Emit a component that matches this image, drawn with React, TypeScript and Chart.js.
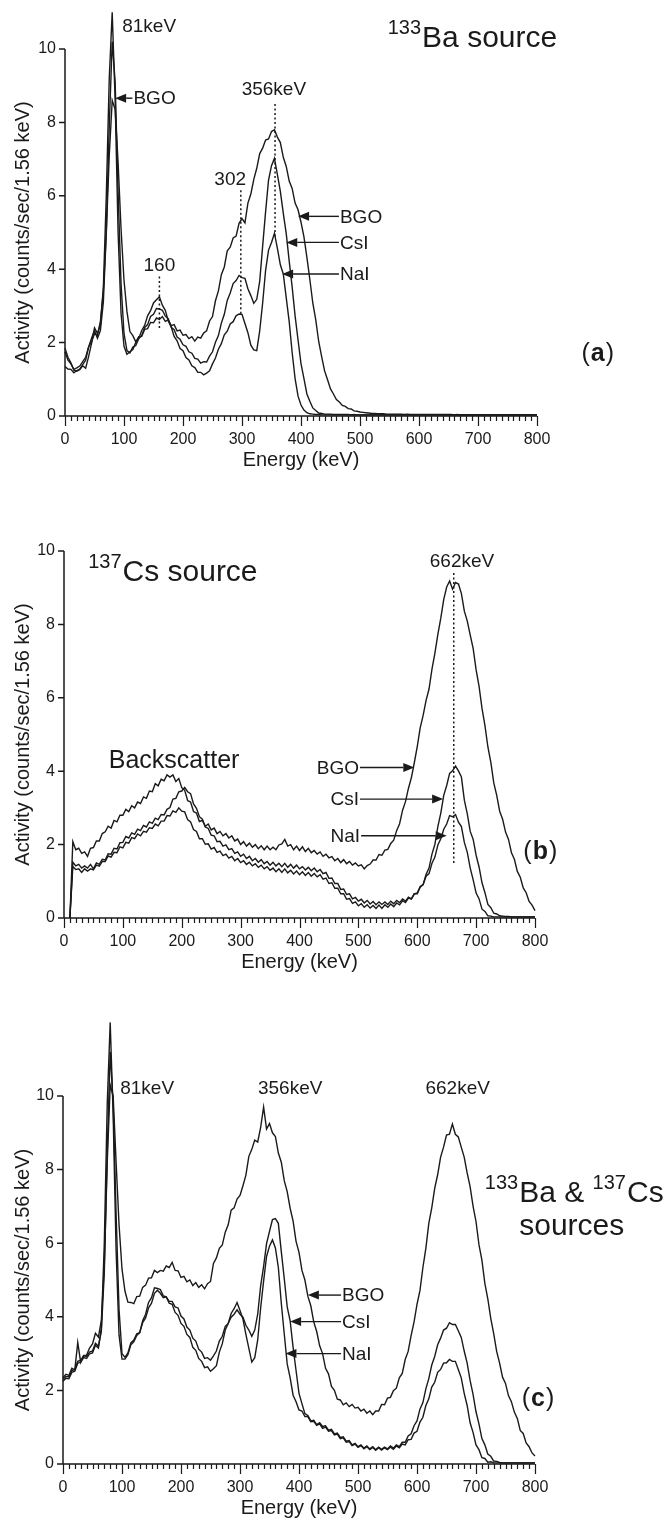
import React, { useEffect, useRef } from 'react';
import { Chart, registerables } from 'chart.js';

Chart.register(...registerables);

const FONT = "'Liberation Sans', Arial, Helvetica, sans-serif";
const INK = '#1a1a1a';

// Energy grid (keV), one point every 5 keV from 0 to 800
const ENERGY_KEV: number[] = Array.from({ length: 161 }, (_, i) => i * 5);
const X_MAX = 800;
const Y_MAX = 10;
const X_TICK_STEP = 100;
const X_MINOR_STEP = 10;
const Y_TICK_STEP = 2;
const X_TITLE = 'Energy (keV)';
const Y_TITLE = 'Activity (counts/sec/1.56 keV)';
const SERIES_NAMES = ['BGO', 'CsI', 'NaI'];

// ---------- (a) 133Ba source ----------
const A_BGO: (number | null)[] = [
  1.75, 1.52, 1.42, 1.27, 1.31, 1.36, 1.48, 1.6, 1.88, 2.02,
  2.24, 2.2, 2.58, 3.4, 5.0, 7.1, 8.6, 8.35, 6.9, 5.1,
  3.7, 2.85, 2.3, 2.19, 2.02, 2.16, 2.17, 2.36, 2.38, 2.55,
  2.54, 2.67, 2.63, 2.71, 2.58, 2.62, 2.46, 2.49, 2.32, 2.34,
  2.2, 2.22, 2.11, 2.16, 2.04, 2.15, 2.12, 2.26, 2.32, 2.59,
  2.71, 3.14, 3.41, 3.85, 4.06, 4.5, 4.6, 4.85, 4.9, 5.25,
  5.38, 5.26, 5.8, 6.05, 6.45, 6.75, 7.15, 7.3, 7.52, 7.55,
  7.75, 7.8, 7.6, 7.45, 7.05, 6.8, 6.4, 6.2, 5.8, 5.62,
  5.28, 4.88, 4.32, 3.72, 3.08, 2.62, 2.03, 1.62, 1.23, 0.99,
  0.74, 0.6, 0.45, 0.38, 0.29, 0.26, 0.2, 0.19, 0.14, 0.13,
  0.11, 0.1, 0.09, 0.08, 0.07, 0.07, 0.06, 0.06, 0.06, 0.05,
  0.05, 0.05, 0.05, 0.05, 0.05, 0.04, 0.05, 0.04, 0.04, 0.04,
  0.04, 0.04, 0.04, 0.04, 0.04, 0.04, 0.04, 0.04, 0.04, 0.04,
  0.04, 0.04, 0.03, 0.04, 0.03, 0.03, 0.03, 0.03, 0.03, 0.03,
  0.03, 0.03, 0.03, 0.03, 0.03, 0.03, 0.03, 0.03, 0.03, 0.03,
  0.03, 0.03, 0.03, 0.03, 0.03, 0.03, 0.03, 0.03, 0.03, 0.03,
  0.03,
];
const A_CSI: (number | null)[] = [
  1.35, 1.28, 1.27, 1.18, 1.24, 1.28, 1.4, 1.52, 1.88, 2.12,
  2.33, 2.12, 2.33, 3.1, 5.0, 7.9, 10.2, 9.1, 6.1, 3.6,
  2.25, 1.78, 1.72, 1.88, 1.92, 2.11, 2.19, 2.41, 2.49, 2.71,
  2.77, 2.93, 2.92, 2.88, 2.72, 2.65, 2.42, 2.35, 2.15, 2.09,
  1.94, 1.9, 1.75, 1.71, 1.57, 1.55, 1.44, 1.48, 1.47, 1.63,
  1.75, 2.01, 2.19, 2.53, 2.77, 3.15, 3.35, 3.61, 3.69, 3.83,
  3.77, 3.75, 3.47, 3.28, 3.07, 3.18, 3.67, 4.63, 5.57, 6.43,
  6.82, 7.02, 6.58, 6.12, 5.52, 4.97, 4.22, 3.52, 2.73, 2.07,
  1.43, 1.02, 0.6, 0.4, 0.22, 0.15, 0.08, 0.07, 0.05, 0.05,
  0.05, 0.04, 0.04, 0.04, 0.04, 0.04, 0.04, 0.03, 0.04, 0.03,
  0.03, 0.03, 0.03, 0.03, 0.03, 0.03, 0.03, 0.03, 0.03, 0.03,
  0.03, 0.03, 0.03, 0.03, 0.03, 0.03, 0.03, 0.03, 0.03, 0.03,
  0.03, 0.03, 0.03, 0.03, 0.03, 0.03, 0.03, 0.03, 0.03, 0.03,
  0.03, 0.03, 0.03, 0.03, 0.03, 0.03, 0.03, 0.03, 0.03, 0.03,
  0.03, 0.03, 0.03, 0.03, 0.03, 0.03, 0.03, 0.03, 0.03, 0.03,
  0.03, 0.03, 0.03, 0.03, 0.03, 0.03, 0.03, 0.03, 0.03, 0.03,
  0.03,
];
const A_NAI: (number | null)[] = [
  1.85, 1.6, 1.45, 1.25, 1.22, 1.26, 1.37, 1.3, 1.62, 1.98,
  2.4, 2.25, 2.48, 3.5, 6.0, 9.2, 11.0, 8.6, 5.0, 2.8,
  1.9, 1.68, 1.75, 1.81, 2.01, 2.11, 2.33, 2.47, 2.73, 2.87,
  3.08, 3.17, 3.25, 3.02, 2.88, 2.59, 2.43, 2.17, 2.05, 1.84,
  1.78, 1.59, 1.53, 1.37, 1.32, 1.19, 1.19, 1.12, 1.17, 1.23,
  1.42, 1.58, 1.82, 1.97, 2.21, 2.31, 2.51, 2.57, 2.73, 2.78,
  2.77, 2.52, 2.27, 1.93, 1.8, 1.78, 2.32, 3.08, 3.97, 4.52,
  4.73, 4.98, 4.57, 4.12, 3.87, 3.22, 2.57, 1.73, 1.02, 0.54,
  0.3, 0.16, 0.09, 0.06, 0.05, 0.04, 0.04, 0.03, 0.03, 0.03,
  0.03, 0.03, 0.03, 0.03, 0.03, 0.03, 0.03, 0.03, 0.03, 0.03,
  0.03, 0.03, 0.03, 0.03, 0.03, 0.03, 0.03, 0.03, 0.03, 0.03,
  0.03, 0.03, 0.03, 0.03, 0.03, 0.03, 0.03, 0.03, 0.03, 0.03,
  0.03, 0.03, 0.03, 0.03, 0.03, 0.03, 0.03, 0.03, 0.03, 0.03,
  0.03, 0.03, 0.03, 0.03, 0.03, 0.03, 0.03, 0.03, 0.03, 0.03,
  0.03, 0.03, 0.03, 0.03, 0.03, 0.03, 0.03, 0.03, 0.03, 0.03,
  0.03, 0.03, 0.03, 0.03, 0.03, 0.03, 0.03, 0.03, 0.03, 0.03,
  0.03,
];

// ---------- (b) 137Cs source ----------
const B_BGO: (number | null)[] = [
  null, null, 0, 2.08, 1.86, 1.9, 1.76, 1.8, 1.68, 1.9,
  1.92, 2.1, 2.1, 2.3, 2.35, 2.5, 2.45, 2.66, 2.62, 2.8,
  2.8, 2.96, 2.9, 3.06, 3.0, 3.16, 3.12, 3.3, 3.26, 3.46,
  3.44, 3.66, 3.6, 3.78, 3.74, 3.9, 3.84, 3.9, 3.72, 3.8,
  3.55, 3.48, 3.2, 3.16, 2.9, 2.86, 2.63, 2.66, 2.5, 2.56,
  2.4, 2.45, 2.3, 2.36, 2.24, 2.3, 2.18, 2.24, 2.1, 2.15,
  2.0, 2.08, 1.96, 2.04, 1.93, 2.0, 1.89, 1.97, 1.86, 1.96,
  1.86, 1.93, 1.86, 1.99, 2.02, 2.14, 1.96, 2.0, 1.86, 1.96,
  1.84, 1.94, 1.81, 1.9, 1.78, 1.84, 1.74, 1.8, 1.68, 1.74,
  1.64, 1.67, 1.56, 1.62, 1.51, 1.59, 1.48, 1.54, 1.44, 1.5,
  1.42, 1.45, 1.34, 1.43, 1.47, 1.58, 1.58, 1.73, 1.71, 1.85,
  1.87, 2.03, 2.12, 2.38, 2.57, 2.93, 3.17, 3.53, 3.82, 4.23,
  4.67, 5.18, 5.52, 5.93, 6.24, 6.78, 7.22, 7.73, 8.17, 8.68,
  9.02, 9.18, 8.96, 9.14, 9.1, 8.84, 8.36, 8.09, 7.71, 7.34,
  6.76, 6.31, 5.71, 5.24, 4.66, 4.24, 3.68, 3.34, 2.91, 2.69,
  2.34, 2.14, 1.78, 1.6, 1.27, 1.11, 0.82, 0.69, 0.45, 0.35,
  0.2,
];
const B_CSI: (number | null)[] = [
  null, null, 0, 1.52, 1.42, 1.46, 1.36, 1.42, 1.36, 1.46,
  1.34, 1.5, 1.46, 1.6, 1.58, 1.75, 1.74, 1.9, 1.88, 2.05,
  2.06, 2.22, 2.18, 2.32, 2.28, 2.42, 2.38, 2.52, 2.48, 2.62,
  2.58, 2.72, 2.68, 2.82, 2.81, 2.96, 3.01, 3.24, 3.26, 3.44,
  3.46, 3.56, 3.44, 3.39, 3.11, 2.99, 2.76, 2.69, 2.48, 2.44,
  2.26, 2.24, 2.08, 2.09, 1.96, 1.99, 1.86, 1.89, 1.76, 1.8,
  1.68, 1.74, 1.62, 1.68, 1.56, 1.62, 1.52, 1.59, 1.48, 1.54,
  1.44, 1.52, 1.42, 1.49, 1.4, 1.49, 1.38, 1.46, 1.36, 1.44,
  1.34, 1.4, 1.31, 1.38, 1.29, 1.36, 1.26, 1.32, 1.21, 1.24,
  1.08, 1.09, 0.94, 0.94, 0.78, 0.79, 0.64, 0.66, 0.52, 0.56,
  0.46, 0.51, 0.41, 0.48, 0.38, 0.45, 0.36, 0.44, 0.37, 0.44,
  0.37, 0.46, 0.39, 0.48, 0.42, 0.52, 0.46, 0.57, 0.52, 0.66,
  0.66, 0.84, 0.91, 1.19, 1.36, 1.74, 2.01, 2.49, 2.86, 3.34,
  3.61, 3.94, 4.01, 4.14, 4.01, 3.84, 3.21, 2.84, 2.36, 2.14,
  1.71, 1.39, 0.96, 0.69, 0.37, 0.28, 0.13, 0.11, 0.06, 0.05,
  0.04, 0.04, 0.03, 0.03, 0.03, 0.03, 0.03, 0.03, 0.03, 0.03,
  0.03,
];
const B_NAI: (number | null)[] = [
  null, null, 0, 1.4, 1.32, 1.34, 1.24, 1.34, 1.28, 1.34,
  1.31, 1.44, 1.41, 1.54, 1.54, 1.69, 1.66, 1.79, 1.78, 1.94,
  1.91, 2.06, 2.04, 2.19, 2.16, 2.29, 2.24, 2.36, 2.34, 2.46,
  2.44, 2.56, 2.51, 2.64, 2.64, 2.79, 2.78, 2.92, 2.88, 3.0,
  2.91, 2.89, 2.68, 2.62, 2.41, 2.36, 2.16, 2.16, 2.01, 2.02,
  1.88, 1.92, 1.79, 1.82, 1.7, 1.74, 1.63, 1.68, 1.56, 1.62,
  1.51, 1.56, 1.46, 1.52, 1.42, 1.48, 1.38, 1.44, 1.34, 1.4,
  1.3, 1.36, 1.26, 1.34, 1.24, 1.34, 1.23, 1.3, 1.2, 1.28,
  1.18, 1.26, 1.16, 1.24, 1.14, 1.21, 1.12, 1.18, 1.06, 1.09,
  0.94, 0.96, 0.81, 0.81, 0.66, 0.66, 0.51, 0.53, 0.4, 0.44,
  0.33, 0.39, 0.29, 0.36, 0.27, 0.34, 0.26, 0.35, 0.26, 0.36,
  0.29, 0.38, 0.31, 0.41, 0.36, 0.47, 0.42, 0.54, 0.52, 0.66,
  0.68, 0.86, 0.91, 1.14, 1.21, 1.49, 1.66, 1.99, 2.16, 2.42,
  2.56, 2.79, 2.76, 2.82, 2.61, 2.49, 2.06, 1.79, 1.36, 1.04,
  0.68, 0.52, 0.24, 0.18, 0.06, 0.05, 0.03, 0.03, 0.03, 0.03,
  0.03, 0.03, 0.03, 0.03, 0.03, 0.03, 0.03, 0.03, 0.03, 0.03,
  0.03,
];

// ---------- (c) 133Ba & 137Cs sources ----------
const C_BGO: (number | null)[] = [
  2.35, 2.44, 2.41, 2.6, 2.56, 3.3, 2.76, 2.95, 2.96, 3.15,
  3.26, 3.55, 3.45, 3.9, 5.4, 8.2, 10.3, 10.0, 8.2, 6.5,
  5.3, 4.7, 4.4, 4.39, 4.36, 4.55, 4.56, 4.8, 4.86, 5.05,
  5.06, 5.26, 5.2, 5.26, 5.24, 5.38, 5.34, 5.48, 5.26, 5.25,
  5.07, 5.1, 4.95, 5.0, 4.85, 4.93, 4.8, 4.87, 4.76, 4.9,
  4.96, 5.45, 5.6, 5.86, 5.95, 6.3, 6.5, 6.9, 6.96, 7.2,
  7.3, 7.56, 7.85, 8.36, 8.55, 8.8, 8.75, 9.15, 9.7, 9.1,
  9.25, 9.0, 8.9, 8.45, 8.2, 7.7, 7.4, 6.95, 6.6, 6.05,
  5.75, 5.26, 5.0, 4.56, 4.3, 3.86, 3.6, 3.21, 3.0, 2.6,
  2.45, 2.11, 2.0, 1.76, 1.74, 1.61, 1.66, 1.56, 1.62, 1.52,
  1.54, 1.44, 1.49, 1.38, 1.44, 1.34, 1.44, 1.44, 1.62, 1.61,
  1.79, 1.81, 1.99, 2.06, 2.34, 2.46, 2.84, 3.06, 3.49, 3.86,
  4.34, 4.71, 5.34, 5.86, 6.54, 6.96, 7.49, 7.86, 8.34, 8.61,
  8.94, 8.96, 9.24, 8.96, 8.89, 8.61, 8.34, 7.91, 7.54, 7.01,
  6.59, 5.96, 5.54, 4.91, 4.49, 3.96, 3.54, 3.06, 2.74, 2.36,
  2.19, 1.86, 1.69, 1.41, 1.24, 0.91, 0.83, 0.57, 0.47, 0.3,
  0.22,
];
const C_CSI: (number | null)[] = [
  2.3, 2.38, 2.37, 2.54, 2.57, 2.79, 2.82, 2.94, 2.92, 3.04,
  3.07, 3.28, 3.2, 3.6, 5.2, 8.5, 11.2, 9.8, 6.8, 4.2,
  3.0, 2.9, 3.02, 3.29, 3.37, 3.54, 3.57, 3.84, 3.97, 4.24,
  4.37, 4.64, 4.72, 4.64, 4.52, 4.54, 4.42, 4.42, 4.27, 4.24,
  4.02, 3.94, 3.72, 3.64, 3.42, 3.34, 3.12, 3.04, 2.87, 2.89,
  2.82, 2.94, 3.07, 3.34, 3.47, 3.74, 3.82, 3.99, 4.07, 4.19,
  4.07, 3.99, 3.77, 3.64, 3.47, 3.64, 4.07, 4.84, 5.37, 5.99,
  6.32, 6.64, 6.67, 6.54, 5.77, 5.04, 4.27, 3.89, 3.17, 2.54,
  1.92, 1.64, 1.37, 1.32, 1.17, 1.19, 1.07, 1.12, 1.02, 1.04,
  0.92, 0.94, 0.82, 0.84, 0.72, 0.74, 0.62, 0.64, 0.52, 0.56,
  0.47, 0.52, 0.43, 0.49, 0.41, 0.47, 0.39, 0.46, 0.4, 0.46,
  0.41, 0.49, 0.43, 0.52, 0.47, 0.59, 0.59, 0.76, 0.82, 1.04,
  1.17, 1.49, 1.67, 2.04, 2.32, 2.69, 2.92, 3.24, 3.42, 3.64,
  3.69, 3.84, 3.79, 3.79, 3.62, 3.44, 3.07, 2.74, 2.27, 1.89,
  1.42, 1.09, 0.69, 0.52, 0.27, 0.21, 0.08, 0.07, 0.04, 0.03,
  0.03, 0.03, 0.03, 0.03, 0.03, 0.03, 0.03, 0.03, 0.03, 0.03,
  0.03,
];
const C_NAI: (number | null)[] = [
  2.25, 2.33, 2.32, 2.49, 2.52, 2.74, 2.77, 2.89, 2.87, 2.99,
  3.02, 3.23, 3.15, 3.7, 6.0, 9.8, 12.0, 9.5, 5.8, 3.5,
  2.85, 2.85, 2.97, 3.24, 3.32, 3.49, 3.57, 3.89, 4.07, 4.39,
  4.52, 4.79, 4.77, 4.74, 4.57, 4.54, 4.37, 4.34, 4.12, 4.04,
  3.82, 3.74, 3.52, 3.44, 3.17, 3.09, 2.87, 2.79, 2.62, 2.64,
  2.52, 2.59, 2.67, 3.04, 3.27, 3.64, 3.82, 4.09, 4.22, 4.39,
  4.17, 3.94, 3.52, 3.14, 2.77, 2.89, 3.37, 4.24, 4.97, 5.64,
  5.92, 6.09, 5.87, 5.34, 4.37, 3.54, 2.72, 2.34, 1.87, 1.69,
  1.47, 1.44, 1.29, 1.29, 1.15, 1.16, 1.05, 1.09, 0.97, 1.0,
  0.89, 0.91, 0.79, 0.81, 0.69, 0.71, 0.59, 0.61, 0.5, 0.54,
  0.45, 0.5, 0.41, 0.47, 0.39, 0.45, 0.37, 0.44, 0.38, 0.44,
  0.39, 0.46, 0.4, 0.49, 0.44, 0.54, 0.52, 0.66, 0.67, 0.84,
  0.89, 1.14, 1.27, 1.59, 1.77, 2.09, 2.22, 2.49, 2.57, 2.74,
  2.75, 2.84, 2.79, 2.79, 2.57, 2.34, 1.92, 1.59, 1.12, 0.86,
  0.52, 0.39, 0.17, 0.15, 0.05, 0.06, 0.03, 0.03, 0.03, 0.03,
  0.03, 0.03, 0.03, 0.03, 0.03, 0.03, 0.03, 0.03, 0.03, 0.03,
  0.03,
];

// ---------- annotations (in data units: keV, activity) ----------
type Label = { text: string; e: number; v: number; align: CanvasTextAlign; size?: number };
type Dotted = { e: number; from: number; to: number };
type Arrow = { text: string; textE: number; tipE: number; v: number; textSide: 'left' | 'right' };
type Title = { parts: { sup: string; main: string }[]; e: number; v: number; line2?: string; v2?: number };

const A_LABELS: Label[] = [
  { text: '81keV', e: 97, v: 10.45, align: 'left' },
  { text: '160', e: 160, v: 3.95, align: 'center' },
  { text: '302', e: 280, v: 6.3, align: 'center' },
  { text: '356keV', e: 354, v: 8.75, align: 'center' },
];
const A_DOTTED: Dotted[] = [
  { e: 160, from: 3.8, to: 2.35 },
  { e: 298, from: 6.15, to: 2.75 },
  { e: 356, from: 8.5, to: 4.9 },
];
const A_ARROWS: Arrow[] = [
  { text: 'BGO', textE: 116, tipE: 85, v: 8.66, textSide: 'right' },
  { text: 'BGO', textE: 466, tipE: 395, v: 5.44, textSide: 'right' },
  { text: 'CsI', textE: 466, tipE: 375, v: 4.73, textSide: 'right' },
  { text: 'NaI', textE: 466, tipE: 368, v: 3.87, textSide: 'right' },
];
const A_TITLE: Title = { parts: [{ sup: '133', main: 'Ba source' }], e: 547, v: 10.05 };

const B_LABELS: Label[] = [
  { text: '662keV', e: 676, v: 9.57, align: 'center' },
  { text: 'Backscatter', e: 187, v: 4.1, align: 'center', size: 25 },
];
const B_DOTTED: Dotted[] = [{ e: 662, from: 9.4, to: 1.5 }];
const B_ARROWS: Arrow[] = [
  { text: 'BGO', textE: 501, tipE: 595, v: 4.1, textSide: 'left' },
  { text: 'CsI', textE: 501, tipE: 644, v: 3.24, textSide: 'left' },
  { text: 'NaI', textE: 503, tipE: 650, v: 2.24, textSide: 'left' },
];
const B_TITLE: Title = { parts: [{ sup: '137', main: 'Cs source' }], e: 41, v: 9.18 };

const C_LABELS: Label[] = [
  { text: '81keV', e: 97, v: 10.05, align: 'left' },
  { text: '356keV', e: 385, v: 10.05, align: 'center' },
  { text: '662keV', e: 669, v: 10.05, align: 'center' },
];
const C_DOTTED: Dotted[] = [];
const C_ARROWS: Arrow[] = [
  { text: 'BGO', textE: 473, tipE: 415, v: 4.59, textSide: 'right' },
  { text: 'CsI', textE: 473, tipE: 385, v: 3.87, textSide: 'right' },
  { text: 'NaI', textE: 473, tipE: 377, v: 3.0, textSide: 'right' },
];
const C_TITLE: Title = {
  parts: [{ sup: '133', main: 'Ba & ' }, { sup: '137', main: 'Cs' }],
  e: 715, v: 7.12, line2: 'sources', v2: 6.22,
};

type PanelSpec = {
  id: string;
  letter: string; letterE: number; letterV: number;
  series: (number | null)[][];
  labels: Label[]; dotted: Dotted[]; arrows: Arrow[]; title: Title;
  top: number; height: number; padTop: number; padBottom: number; padRight: number; yAxisWidth: number;
};

const PANELS: PanelSpec[] = [
  {
    id: 'a', letter: 'a', letterE: 903, letterV: 1.69,
    series: [A_BGO, A_CSI, A_NAI], labels: A_LABELS, dotted: A_DOTTED, arrows: A_ARROWS, title: A_TITLE,
    top: 0, height: 500, padTop: 49, padBottom: 26, padRight: 133, yAxisWidth: 65,
  },
  {
    id: 'b', letter: 'b', letterE: 809, letterV: 1.8,
    series: [B_BGO, B_CSI, B_NAI], labels: B_LABELS, dotted: B_DOTTED, arrows: B_ARROWS, title: B_TITLE,
    top: 500, height: 500, padTop: 51, padBottom: 24, padRight: 135, yAxisWidth: 64,
  },
  {
    id: 'c', letter: 'c', letterE: 805, letterV: 1.75,
    series: [C_BGO, C_CSI, C_NAI], labels: C_LABELS, dotted: C_DOTTED, arrows: C_ARROWS, title: C_TITLE,
    top: 1000, height: 522, padTop: 96, padBottom: 0, padRight: 135, yAxisWidth: 63,
  },
];

const axesPlugin = {
  id: 'manualAxes',
  afterDraw(chart: any) {
    const { ctx } = chart;
    const xs = chart.scales.x, ys = chart.scales.y;
    const x0 = xs.getPixelForValue(0), x1 = xs.getPixelForValue(X_MAX);
    const y0 = ys.getPixelForValue(0), y1 = ys.getPixelForValue(Y_MAX);
    ctx.save();
    ctx.strokeStyle = INK;
    ctx.lineWidth = 1.5;
    ctx.beginPath();
    ctx.moveTo(x0, y1);
    ctx.lineTo(x0, y0);
    ctx.lineTo(x1, y0);
    for (let v = 0; v <= Y_MAX; v += Y_TICK_STEP) {
      const py = ys.getPixelForValue(v);
      ctx.moveTo(x0 - 6, py);
      ctx.lineTo(x0, py);
    }
    ctx.stroke();
    ctx.lineWidth = 1.2;
    ctx.beginPath();
    for (let e = 0; e <= X_MAX; e += X_MINOR_STEP) {
      const px = Math.round(xs.getPixelForValue(e)) + 0.5;
      const len = e % X_TICK_STEP === 0 ? 10 : 5;
      ctx.moveTo(px, y0);
      ctx.lineTo(px, y0 + len);
    }
    ctx.stroke();
    ctx.restore();
  },
};

function makeAnnotationPlugin(p: PanelSpec) {
  return {
    id: 'annotations-' + p.id,
    afterDatasetsDraw(chart: any) {
      const { ctx } = chart;
      const xs = chart.scales.x, ys = chart.scales.y;
      const X = (e: number) => xs.getPixelForValue(e);
      const Y = (v: number) => ys.getPixelForValue(v);
      ctx.save();
      ctx.fillStyle = INK;
      ctx.strokeStyle = INK;

      // dotted marker lines
      ctx.setLineDash([2, 2.5]);
      ctx.lineWidth = 1.5;
      for (const d of p.dotted) {
        ctx.beginPath();
        ctx.moveTo(X(d.e), Y(d.from));
        ctx.lineTo(X(d.e), Y(d.to));
        ctx.stroke();
      }
      ctx.setLineDash([]);

      // peak labels
      ctx.textBaseline = 'alphabetic';
      for (const l of p.labels) {
        ctx.font = `${l.size || 19}px ${FONT}`;
        ctx.textAlign = l.align;
        ctx.fillText(l.text, X(l.e), Y(l.v));
      }

      // arrows with detector names
      ctx.font = `19px ${FONT}`;
      ctx.textBaseline = 'middle';
      ctx.lineWidth = 1.4;
      for (const a of p.arrows) {
        const py = Y(a.v);
        const tx = X(a.textE);
        const tip = X(a.tipE);
        let tail: number;
        if (a.textSide === 'right') {
          ctx.textAlign = 'left';
          ctx.fillText(a.text, tx, py + 1);
          tail = tx - 1;
        } else {
          ctx.textAlign = 'right';
          ctx.fillText(a.text, tx, py + 1);
          tail = tx + 1;
        }
        const dir = tip < tail ? -1 : 1;
        const headLen = 11;
        ctx.beginPath();
        ctx.moveTo(tail, py);
        ctx.lineTo(tip - dir * headLen, py);
        ctx.stroke();
        ctx.beginPath();
        ctx.moveTo(tip, py);
        ctx.lineTo(tip - dir * headLen, py - 4.5);
        ctx.lineTo(tip - dir * headLen, py + 4.5);
        ctx.closePath();
        ctx.fill();
      }

      // isotope title with superscripts
      const t = p.title;
      ctx.textAlign = 'left';
      ctx.textBaseline = 'alphabetic';
      let x = X(t.e);
      const base = Y(t.v);
      let firstMainX: number | null = null;
      for (const part of t.parts) {
        ctx.font = `20px ${FONT}`;
        ctx.fillText(part.sup, x, base - 13);
        x += ctx.measureText(part.sup).width + 1;
        if (firstMainX === null) firstMainX = x;
        ctx.font = `30px ${FONT}`;
        ctx.fillText(part.main, x, base);
        x += ctx.measureText(part.main).width;
      }
      if (t.line2 && t.v2 !== undefined && firstMainX !== null) {
        ctx.font = `30px ${FONT}`;
        ctx.fillText(t.line2, firstMainX, Y(t.v2));
      }

      // panel letter "(x)" with bold letter
      ctx.textBaseline = 'middle';
      const cx = X(p.letterE), cy = Y(p.letterV);
      ctx.font = `25px ${FONT}`;
      const wp = ctx.measureText('(').width;
      const wq = ctx.measureText(')').width;
      ctx.font = `bold 25px ${FONT}`;
      const wl = ctx.measureText(p.letter).width;
      const total = wp + wl + wq + 2;
      let lx = cx - total / 2;
      ctx.font = `25px ${FONT}`;
      ctx.fillText('(', lx, cy);
      lx += wp + 1;
      ctx.font = `bold 25px ${FONT}`;
      ctx.fillText(p.letter, lx, cy);
      lx += wl + 1;
      ctx.font = `25px ${FONT}`;
      ctx.fillText(')', lx, cy);

      ctx.restore();
    },
  };
}

function SpectrumPanel({ spec }: { spec: PanelSpec }) {
  const ref = useRef<HTMLCanvasElement | null>(null);
  useEffect(() => {
    const canvas = ref.current;
    if (!canvas) return;
    const chart = new Chart(canvas, {
      type: 'line',
      data: {
        datasets: spec.series.map((s, k) => ({
          label: SERIES_NAMES[k],
          data: ENERGY_KEV.map((e, i) => ({ x: e, y: s[i] })),
          borderColor: INK,
          borderWidth: 1.4,
          pointRadius: 0,
          tension: 0,
          fill: false,
          clip: false,
          spanGaps: false,
        })),
      } as any,
      options: {
        responsive: false,
        maintainAspectRatio: false,
        animation: false,
        events: [],
        layout: { padding: { top: spec.padTop, bottom: spec.padBottom, left: 0, right: spec.padRight } },
        plugins: { legend: { display: false }, tooltip: { enabled: false }, title: { display: false } },
        scales: {
          x: {
            type: 'linear',
            min: 0,
            max: X_MAX,
            grid: { display: false, drawTicks: false },
            border: { display: false },
            ticks: { stepSize: X_TICK_STEP, padding: 14, color: INK, font: { family: FONT, size: 16 }, maxRotation: 0, autoSkip: false },
            title: { display: true, text: X_TITLE, color: INK, font: { family: FONT, size: 20 }, padding: { top: 0, bottom: 2 } },
            afterFit: (s: any) => { s.height = 58; },
          },
          y: {
            type: 'linear',
            min: 0,
            max: Y_MAX,
            grid: { display: false, drawTicks: false },
            border: { display: false },
            ticks: { stepSize: Y_TICK_STEP, padding: 9, color: INK, font: { family: FONT, size: 16 } },
            title: { display: true, text: Y_TITLE, color: INK, font: { family: FONT, size: 20 }, padding: { top: 11, bottom: 0 } },
            afterFit: (s: any) => { s.width = spec.yAxisWidth; },
          },
        },
      } as any,
      plugins: [axesPlugin, makeAnnotationPlugin(spec)],
    });
    return () => chart.destroy();
  }, [spec]);
  return (
    <canvas
      ref={ref}
      width={670}
      height={spec.height}
      style={{ position: 'absolute', left: 0, top: spec.top, width: 670, height: spec.height, display: 'block' }}
    />
  );
}

export default function App() {
  return (
    <div style={{ position: 'absolute', left: 0, top: 0, width: 670, height: 1522, background: '#fff' }}>
      {PANELS.map((p) => (
        <SpectrumPanel key={p.id} spec={p} />
      ))}
    </div>
  );
}
